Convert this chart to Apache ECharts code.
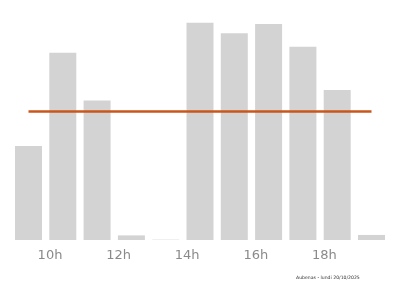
<!DOCTYPE html>
<html>
<head>
<meta charset="utf-8">
<script src="https://cdn.jsdelivr.net/npm/echarts@6/dist/echarts.min.js"></script>
<style>html,body{margin:0;padding:0;background:#fff}#c{width:400px;height:286px}</style>
</head>
<body>
<div id="c"></div>
<script>
const categories = ['9h','10h','11h','12h','13h','14h','15h','16h','17h','18h','19h'];
const values = [40.9, 81.4, 60.6, 2.0, 0.15, 94.5, 89.9, 93.9, 84.0, 65.2, 2.2];
const tickHours = [10, 12, 14, 16, 18];
const caption = 'Aubenas - lundi 20/10/2025';

const avg = values.reduce((a, b) => a + b, 0) / values.length;

const chart = echarts.init(document.getElementById('c'), null, {renderer: 'canvas'});
chart.setOption({
  animation: false,
  backgroundColor: '#ffffff',
  grid: {left: 11.35, right: 11.35, top: 10, bottom: 46, containLabel: false},
  xAxis: [
    {
      type: 'category', data: categories, boundaryGap: true,
      axisLine: {show: false}, axisTick: {show: false}, axisLabel: {show: false},
      splitLine: {show: false}
    },
    {
      type: 'value', position: 'bottom', min: 8.873, max: 19.873,
      axisLine: {show: false}, axisTick: {show: false}, splitLine: {show: false},
      axisLabel: {
        customValues: tickHours, formatter: v => v + 'h',
        color: '#8a8a8a', fontSize: 13, fontFamily: 'DejaVu Sans', margin: 9
      }
    }
  ],
  yAxis: {
    type: 'value', min: 0, max: 100, show: false, splitLine: {show: false}
  },
  series: [{
    type: 'bar', xAxisIndex: 0, data: values, barWidth: 27,
    itemStyle: {color: '#d3d3d3'},
    markLine: {
      symbol: 'none', silent: true, label: {show: false},
      lineStyle: {color: '#c9561a', width: 2.5, type: 'solid'},
      data: [[{coord: [categories[0], avg]}, {coord: [categories[categories.length - 1], avg]}]]
    }
  }],
  graphic: [{
    type: 'text', left: 296, top: 275,
    style: {text: caption, fontSize: 4.6, fill: '#333', fontFamily: 'DejaVu Sans'}
  }]
});
</script>
</body>
</html>
